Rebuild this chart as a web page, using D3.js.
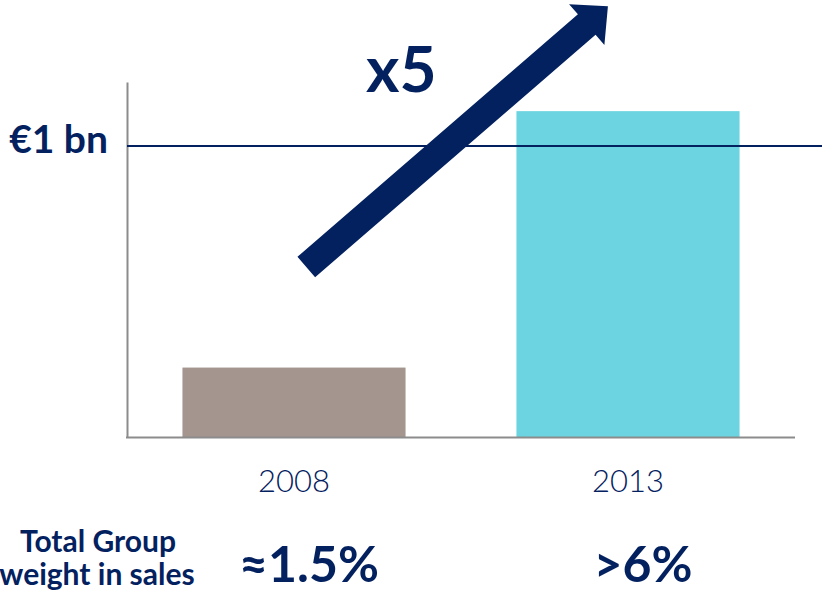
<!DOCTYPE html>
<html>
<head>
<meta charset="utf-8">
<script src="https://cdn.jsdelivr.net/npm/d3@7"></script>
<style>
  body { margin: 0; background: #fff; }
  svg { display: block; font-family: Lato, "DejaVu Sans", sans-serif; }
</style>
</head>
<body>
<div id="visualization"></div>
<script>
// values (bn EUR)
var years = ["2008", "2013"];
var sales = [0.24, 1.12];
var groupWeight = ["≈1.5%", ">6%"];
var refValue = 1;
var refLabel = "€1 bn";
var growthLabel = "x5";

var navy = "#03215f";
var barColors = ["#a4958f", "#6bd4e0"];

var W = 822, H = 595;
var svg = d3.select("#visualization").append("svg")
    .attr("width", W)
    .attr("height", H);

var x = d3.scaleBand().domain(years).range([127, 795])
    .paddingInner(0.332).paddingOuter(0.166);
var y = d3.scaleLinear().domain([0, 1.22]).range([437.5, 82]);

// bars
svg.append("g")
    .selectAll("rect")
    .data(years)
    .enter().append("rect")
    .attr("x", d => x(d))
    .attr("y", (d, i) => y(sales[i]))
    .attr("width", x.bandwidth())
    .attr("height", (d, i) => y(0) - y(sales[i]))
    .attr("fill", (d, i) => barColors[i]);

// axes (just the lines, plus year labels)
var yAxis = svg.append("g").attr("transform", "translate(127,0)")
    .call(d3.axisLeft(y).tickValues([]).tickSizeOuter(0));
yAxis.select(".domain").attr("stroke", "#8c8c8c").attr("stroke-width", 2);

var xAxis = svg.append("g").attr("transform", "translate(0," + y(0) + ")")
    .call(d3.axisBottom(x).tickSize(0).tickPadding(32));
xAxis.select(".domain").attr("stroke", "#8c8c8c").attr("stroke-width", 2)
    .attr("d", "M126,0H795");
xAxis.selectAll("text")
    .attr("font-family", "Lato, sans-serif")
    .attr("font-weight", 300)
    .attr("font-size", 31)
    .attr("fill", navy);

// reference line at 1 bn
svg.append("line")
    .attr("x1", 127).attr("x2", W)
    .attr("y1", y(refValue)).attr("y2", y(refValue))
    .attr("stroke", navy).attr("stroke-width", 2);

svg.append("text")
    .attr("x", 108).attr("y", y(refValue) + 7)
    .attr("text-anchor", "end")
    .attr("font-weight", 700).attr("font-size", 39)
    .attr("fill", navy)
    .text(refLabel);

// growth arrow
var x0 = x("2008") + x.bandwidth() * 0.555, y0 = y(0.585);
var x1 = x("2013") + x.bandwidth() * 0.41, y1 = y(1.48);
var len = Math.hypot(x1 - x0, y1 - y0);
var ang = Math.atan2(y1 - y0, x1 - x0) * 180 / Math.PI;
var sw = 13.5, hw = 27, hl = 28;
svg.append("path")
    .attr("transform", "translate(" + x0 + "," + y0 + ") rotate(" + ang + ")")
    .attr("d", "M0," + (-sw) + "H" + (len - hl) + "V" + (-hw) + "L" + len + ",0L" +
        (len - hl) + "," + hw + "V" + sw + "H0Z")
    .attr("fill", navy);

svg.append("text")
    .attr("x", 366).attr("y", 92)
    .attr("font-weight", 700).attr("font-size", 64)
    .attr("fill", navy)
    .text(growthLabel);

// group weight row
var note = svg.append("text")
    .attr("text-anchor", "middle")
    .attr("font-weight", 700).attr("font-size", 30)
    .attr("fill", navy);
note.append("tspan").attr("x", 98).attr("y", 552).text("Total Group");
note.append("tspan").attr("x", 97).attr("y", 585).text("weight in sales");

svg.append("g")
    .selectAll("text")
    .data(years)
    .enter().append("text")
    .attr("x", d => x(d) + x.bandwidth() / 2 + 15)
    .attr("y", 582)
    .attr("text-anchor", "middle")
    .attr("font-weight", 700).attr("font-size", 50)
    .attr("fill", navy)
    .text((d, i) => groupWeight[i]);
</script>
</body>
</html>
